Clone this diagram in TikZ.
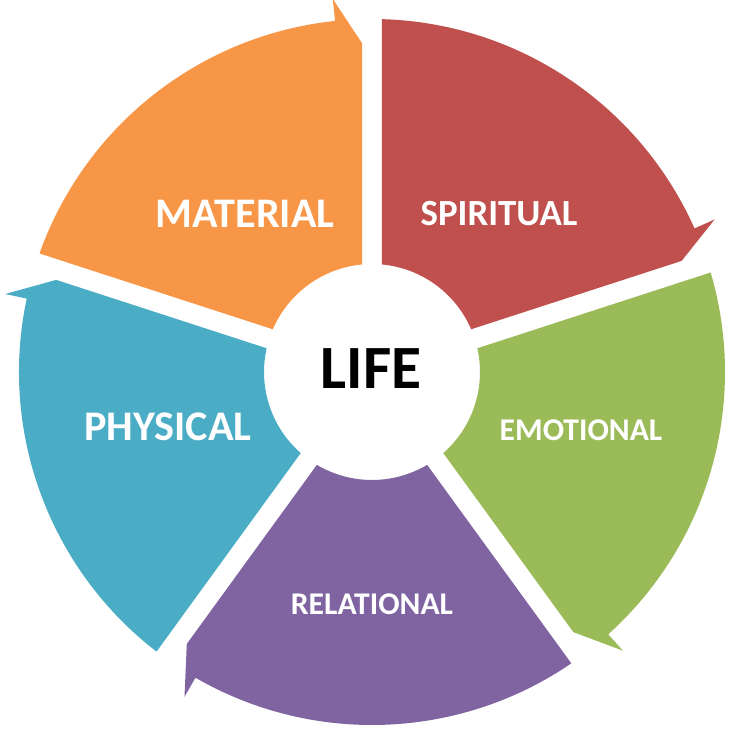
\documentclass[tikz,border=0pt]{standalone}
\usepackage{fontspec}
\setmainfont{Carlito}
\definecolor{matColor}{HTML}{F79646}
\definecolor{spiColor}{HTML}{C0504D}
\definecolor{emoColor}{HTML}{9BBB59}
\definecolor{relColor}{HTML}{8064A2}
\definecolor{phyColor}{HTML}{4BACC6}
\tikzstyle{segLabel} = [text=white, anchor=center, inner sep=0pt]
\tikzstyle{bigLabel} = [segLabel, font=\bfseries\fontsize{24}{29}\selectfont]
\tikzstyle{smallLabel} = [segLabel, font=\bfseries\fontsize{18}{22}\selectfont]

\begin{document}
\begin{tikzpicture}[x=0.02cm, y=0.02cm]
    \useasboundingbox (-372,-357) rectangle (358,372);

    % each segment runs 72 degrees clockwise from its start angle, arrow barb at the end
    \foreach \s/\col in {162/matColor, 90/spiColor, 18/emoColor, -54/relColor, -126/phyColor} {
        \pgfmathsetmacro{\e}{\s-72}
        \fill[\col] ({\s-5.31}:108) -- ({\s-1.62}:353)
            arc[start angle=\s-1.62, end angle=\e+6, radius=353]
            -- ({\e+6}:375) -- ({\e+1.74}:329) -- ({\e+5.31}:108)
            arc[start angle=\e+5.31, end angle=\s-5.31, radius=108] -- cycle;
    }

    \node (material) [bigLabel] at (-127,158) {MATERIAL};
    \node (spiritual) [segLabel, font=\bfseries\fontsize{21}{25}\selectfont] at (127,158) {SPIRITUAL};
    \node (emotional) [smallLabel] at (209,-58) {EMOTIONAL};
    \node (relational) [smallLabel] at (0,-232) {RELATIONAL};
    \node (physical) [bigLabel] at (-204,-55) {PHYSICAL};
    \node (life) [font=\bfseries\fontsize{35}{42}\selectfont] at (-1,3) {LIFE};

\end{tikzpicture}
\end{document}
